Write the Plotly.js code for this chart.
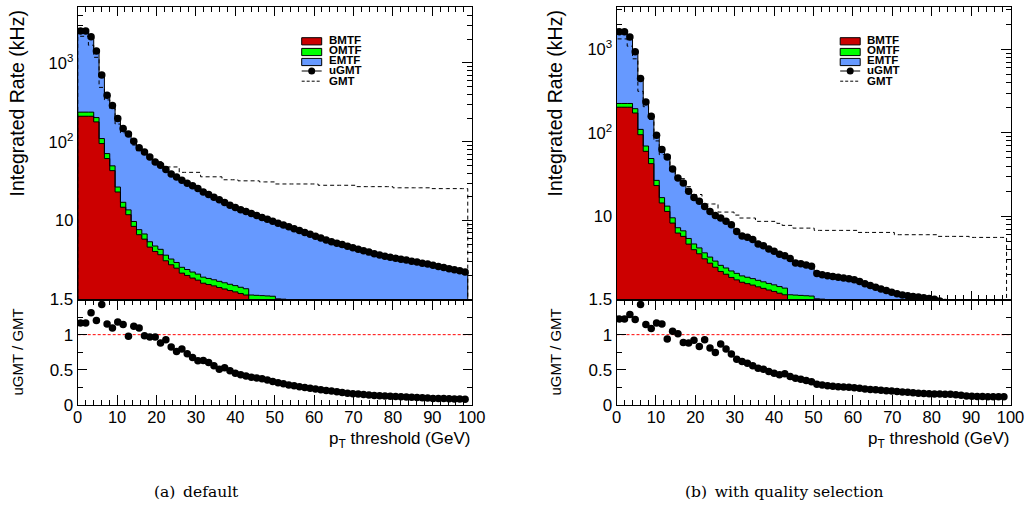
<!DOCTYPE html>
<html>
<head>
<meta charset="utf-8">
<script src="https://cdn.plot.ly/plotly-3.0.1.min.js"></script>
<style>
  html, body { margin: 0; padding: 0; background: #ffffff; }
  #chart { width: 1030px; height: 509px; }
</style>
</head>
<body>
<div id="chart"></div>
<script>
// ---------------- binning of the pT threshold axis ----------------
const N_BINS = 73;           // number of threshold bins
const PT_LAST_EDGE = 99;     // GeV, upper edge of the last bin

// ---------------- (a) default ----------------
const bmtfA = [211,211,211,179,95,61.4,43.1,23.1,14.8,11.9, 8.46,6.64,5.83,4.62,4.07,3.70,3.10,2.76,2.50,2.16,
  2.02,1.87,1.76,1.61,1.55,1.49,1.42,1.36,1.30,1.25, 1.19,1.14,0.92,0.91,0.90,0.90,0.89,0.82,0.81,0.80,
  0.80,0.78,0.77,0.70,0.68,0.62,0.60,0.58,0.57,0.55, 0.53,0.51,0.48,0.46,0.45,0.44,0.43,0.41,0.40,0.39,
  0.38,0.36,0.35,0.34,0.33,0.32,0.31,0.30,0.29,0.28, 0.27,0.27,0.26];
const omtfA = [27,27,27,24,15,9.5,6.5,3.6,2.3,1.8, 1.3,1.05,0.95,0.78,0.70,0.63,0.55,0.50,0.45,0.40,
  0.38,0.36,0.34,0.31,0.30,0.29,0.28,0.27,0.26,0.25, 0.24,0.23,0.22,0.22,0.22,0.21,0.21,0.20,0.20,0.20,
  0.20,0.22,0.22,0.18,0.17,0.16,0.16,0.15,0.15,0.14, 0.14,0.13,0.13,0.12,0.12,0.12,0.11,0.11,0.11,0.10,
  0.10,0.10,0.10,0.09,0.09,0.09,0.09,0.08,0.08,0.08, 0.08,0.08,0.08];
const emtfA = [2302,2302,1912,1214,592,320.1,239.4,171.3,130.9,112.3, 92.24,76.31,67.72,58.9,50.83,46.07,40.85,35.84,32.85,29.94,
  27.4,25.57,23.4,21.18,19.55,18.02,16.7,15.37,14.14,13.2, 12.37,11.73,11.16,10.47,9.88,9.29,8.74,8.27,7.80,7.34,
  6.91,6.48,6.11,5.83,5.50,5.25,4.94,4.69,4.46,4.28, 4.08,3.90,3.74,3.58,3.42,3.25,3.12,3.02,2.93,2.85,
  2.76,2.70,2.61,2.55,2.46,2.40,2.32,2.25,2.17,2.10, 2.03,1.96,1.89];
const ugmtA = [2540,2540,2150,1417,702,391,289,198,148,126, 102,84,74.5,64.3,55.6,50.4,44.5,39.1,35.8,32.5,
  29.8,27.8,25.5,23.1,21.4,19.8,18.4,17.0,15.7,14.7, 13.8,13.1,12.3,11.6,11.0,10.4,9.84,9.29,8.81,8.34,
  7.91,7.48,7.10,6.71,6.35,6.03,5.70,5.42,5.18,4.97, 4.75,4.54,4.35,4.16,3.99,3.81,3.66,3.54,3.44,3.34,
  3.24,3.16,3.06,2.98,2.88,2.81,2.72,2.63,2.54,2.46, 2.38,2.31,2.23];
const gmtA = [2180,2180,1680,1180,490,340,265,168,130,130, 91,77,76,66,58,56,48,48,48,41,
  41,41,41,36,36,36,36,33,33,33, 32,32,32,32,31,31,31,29.2,29.2,29.2,
  29.2,29.2,29.2,29.2,29.2,28.1,28.1,28.1,28.1,28.1, 28.1,28.1,27.0,27.0,27.0,27.0,27.0,27.0,27.0,26.1,
  26.1,26.1,26.1,26.1,26.1,26.1,25.5,25.5,25.5,25.5, 25.5,25.5,25.5];
const ratioA = [1.167,1.167,1.31,1.2,1.43,1.152,1.095,1.181,1.143,0.976, 1.119,1.095,0.986,0.967,0.967,0.881,0.929,0.824,0.762,0.795,
  0.729,0.676,0.629,0.633,0.605,0.557,0.51,0.529,0.486,0.452, 0.429,0.414,0.395,0.384,0.372,0.356,0.334,0.318,0.302,0.286,
  0.272,0.258,0.248,0.237,0.226,0.217,0.207,0.198,0.188,0.177, 0.167,0.161,0.155,0.148,0.142,0.136,0.130,0.127,0.124,0.120,
  0.117,0.114,0.111,0.107,0.103,0.098,0.094,0.093,0.091,0.089, 0.087,0.084,0.081];

// ---------------- (b) with quality selection ----------------
const bmtfB = [203,203,203,173,95,60,42.7,23.3,14.4,11.4, 8.26,6.27,5.72,4.62,3.96,3.54,3.08,2.73,2.44,2.17,
  2.01,1.84,1.72,1.61,1.55,1.49,1.42,1.36,1.30,1.25, 1.19,1.14,0.92,0.91,0.90,0.90,0.89,0.82,0.81,0.80,
  0.80,0.78,0.77,0.70,0.68,0.62,0.60,0.58,0.57,0.55, 0.53,0.51,0.48,0.46,0.45,0.44,0.43,0.41,0.40,0.39,
  0.38,0.36,0.35,0.34,0.33,0.32,0.31,0.30,0.29,0.28, 0.27,0.27,0.26];
const omtfB = [22,22,22,22,15,9.5,6.5,3.6,2.3,1.8, 1.3,1.0,0.95,0.78,0.68,0.62,0.55,0.50,0.45,0.40,
  0.38,0.36,0.34,0.31,0.30,0.29,0.28,0.27,0.26,0.25, 0.24,0.23,0.22,0.22,0.22,0.21,0.21,0.20,0.20,0.20,
  0.20,0.22,0.22,0.18,0.17,0.16,0.16,0.15,0.15,0.14, 0.14,0.13,0.13,0.12,0.12,0.12,0.11,0.11,0.11,0.10,
  0.10,0.10,0.10,0.09,0.09,0.09,0.09,0.08,0.08,0.08, 0.08,0.08,0.08];
const emtfB = [1408,1408,1184,743,340,165.5,108.8,66.7,46.3,38.1, 27.24,21.43,18.33,14.5,12.16,10.94,9.47,8.17,7.31,6.93,
  6.27,5.70,4.50,3.88,3.75,3.47,2.95,2.79,2.49,2.30, 2.07,1.98,1.96,1.62,1.56,1.49,1.40,1.03,0.97,0.93,
  0.89,0.85,0.82,0.89,0.88,0.86,0.79,0.74,0.68,0.65, 0.61,0.58,0.56,0.55,0.54,0.53,0.53,0.53,0.52,0.52,
  0.48,0.46,0.44,0.43,0.40,0.37,0.34,0.34,0.33,0.31, 0.31,0.31,0.31];
const ugmtB = [1633,1633,1409,938,450,235,158,93.6,63,51.3, 36.8,28.7,25,19.9,16.8,15.1,13.1,11.4,10.2,9.5,
  8.66,7.9,6.56,5.8,5.6,5.25,4.65,4.42,4.05,3.8, 3.5,3.35,3.1,2.75,2.68,2.6,2.5,2.05,1.98,1.93,
  1.89,1.85,1.81,1.77,1.73,1.64,1.55,1.47,1.40,1.34, 1.28,1.22,1.17,1.13,1.11,1.09,1.07,1.05,1.03,1.01,
  0.96,0.92,0.89,0.86,0.82,0.78,0.74,0.72,0.70,0.67, 0.66,0.66,0.65];
const gmtB = [1340,1340,1096,773,315,206,145,80,54.7,54.7, 35.1,28.2,28.2,22.6,18.2,18.2,14,14,14,11.2,
  11.2,11.2,10.3,9.5,9.5,9.5,8.66,8.66,8.66,8.66, 8.2,7.75,7.75,7.19,7.19,7.19,7.19,6.75,6.75,6.75,
  6.75,6.75,6.75,6.75,6.75,6.38,6.38,6.38,6.38,6.38, 6.38,6.38,5.99,5.99,5.99,5.99,5.99,5.99,5.99,5.99,
  5.72,5.72,5.72,5.72,5.72,5.72,5.56,5.56,5.56,5.56, 5.56,5.56,5.56];
const ratioB = [1.224,1.224,1.286,1.214,1.43,1.143,1.086,1.167,1.152,0.938, 1.048,1.014,0.89,0.881,0.919,0.833,0.929,0.81,0.748,0.867,
  0.795,0.724,0.652,0.619,0.595,0.557,0.524,0.51,0.476,0.452, 0.429,0.443,0.405,0.38,0.365,0.35,0.33,0.295,0.285,0.275,
  0.267,0.26,0.256,0.251,0.245,0.237,0.229,0.222,0.216,0.21, 0.204,0.198,0.192,0.186,0.18,0.173,0.167,0.164,0.161,0.158,
  0.156,0.154,0.152,0.145,0.137,0.129,0.125,0.122,0.12,0.119, 0.119,0.119,0.118];

// ---------------- labels ----------------
const seriesNames = ['BMTF', 'OMTF', 'EMTF', 'uGMT', 'GMT'];
const yTitleTop = 'Integrated Rate (kHz)';
const yTitleRatio = 'uGMT / GMT';
const xTitle = 'p<sub>T</sub> threshold (GeV)';
const captions = ['(a)\u2002default', '(b)\u2002with quality selection'];
const logTickVals = [10, 100, 1000];
const logTickText = ['10', '10<sup>2</sup>', '10<sup>3</sup>'];

// ---------------- styling ----------------
const COL_B = '#cc0000', COL_O = '#00ff00', COL_E = '#6699ff';
const FONT = 'Liberation Sans, Arial, Helvetica, sans-serif';
const W = 1030, H = 509;
const px = v => v / W;
const py = v => 1 - v / H;

const binW = PT_LAST_EDGE / N_BINS;
const edges = Array.from({length: N_BINS + 1}, (_, i) => i * binW);
const centers = edges.slice(0, N_BINS).map(e => e + binW / 2);
const TINY = 1e-4;

function stepLine(levels, xa, ya, dash) {
  return {
    type: 'scatter', mode: 'lines', xaxis: xa, yaxis: ya,
    x: [edges[0]].concat(edges),
    y: [TINY].concat(levels, [TINY]),
    line: {shape: 'hv', color: '#000000', width: 1, dash: dash || 'solid'},
    hoverinfo: 'skip', showlegend: false
  };
}
function bars(vals, color, name, xa, ya) {
  return {type: 'bar', x: centers, y: vals, width: binW, xaxis: xa, yaxis: ya, name: name,
          marker: {color: color, line: {width: 0}}, showlegend: false, hoverinfo: 'skip'};
}

function panelTraces(b, o, e, u, g, r, xa, ya, xr, yr) {
  const lvlBO = b.map((v, i) => v + o[i]);
  const lvlAll = lvlBO.map((v, i) => v + e[i]);
  return [
    bars(b, COL_B, seriesNames[0], xa, ya),
    bars(o, COL_O, seriesNames[1], xa, ya),
    bars(e, COL_E, seriesNames[2], xa, ya),
    stepLine(b, xa, ya),
    stepLine(lvlBO, xa, ya),
    stepLine(lvlAll, xa, ya),
    stepLine(g, xa, ya, '4px,3px'),
    {type: 'scatter', mode: 'markers', x: centers, y: u, xaxis: xa, yaxis: ya, name: seriesNames[3],
     marker: {color: '#000000', size: 7.5, symbol: 'circle'}, cliponaxis: true, showlegend: false, hoverinfo: 'skip'},
    {type: 'scatter', mode: 'markers', x: centers, y: r, xaxis: xr, yaxis: yr, name: 'ratio',
     marker: {color: '#000000', size: 7.5, symbol: 'circle'}, cliponaxis: true, showlegend: false, hoverinfo: 'skip'}
  ];
}

const traces = [].concat(
  panelTraces(bmtfA, omtfA, emtfA, ugmtA, gmtA, ratioA, 'x', 'y', 'x2', 'y2'),
  panelTraces(bmtfB, omtfB, emtfB, ugmtB, gmtB, ratioB, 'x3', 'y3', 'x4', 'y4')
);

// geometry (pixels)
const PANELS = [
  {x0: 77.7, x1: 471.7, logMax: 3.71},
  {x0: 616.5, x1: 1010.5, logMax: 3.51}
];
const TOP_Y0 = 7, TOP_Y1 = 299.5, RAT_Y1 = 405;

const minorLog = [];
[1, 10, 100, 1000].forEach(d => { for (let k = 2; k <= 9; k++) minorLog.push(k * d); });

const tickFont = {family: FONT, size: 16.5, color: '#000000'};
function xTop(i, anchor) {
  const p = PANELS[i];
  return {domain: [px(p.x0), px(p.x1)], range: [0, 100], anchor: anchor, showticklabels: false,
    ticks: 'inside', tick0: 0, dtick: 10, ticklen: 9, tickwidth: 1, tickcolor: '#000',
    minor: {ticks: 'inside', dtick: 2, tick0: 0, ticklen: 5, tickwidth: 1, tickcolor: '#000'},
    showline: true, linecolor: '#000', linewidth: 1, mirror: 'allticks',
    showgrid: false, zeroline: false, layer: 'below traces', fixedrange: true};
}
function yTop(i, anchor) {
  const p = PANELS[i];
  return {type: 'log', domain: [py(TOP_Y1), py(TOP_Y0)], range: [0, p.logMax], anchor: anchor,
    tickmode: 'array', tickvals: logTickVals, ticktext: logTickText, tickfont: tickFont,
    ticks: 'inside', ticklen: 10, tickwidth: 1, tickcolor: '#000',
    minor: {tickmode: 'array', tickvals: minorLog, ticks: 'inside', ticklen: 5, tickwidth: 1, tickcolor: '#000'},
    showline: true, linecolor: '#000', linewidth: 1, mirror: 'allticks',
    showgrid: false, zeroline: false, layer: 'below traces', fixedrange: true};
}
function xRat(i, anchor) {
  const p = PANELS[i];
  return {domain: [px(p.x0), px(p.x1)], range: [0, 100], anchor: anchor,
    tickmode: 'linear', tick0: 0, dtick: 10, tickfont: tickFont, ticklabelstandoff: -3,
    ticks: 'inside', ticklen: 10, tickwidth: 1, tickcolor: '#000',
    minor: {ticks: 'inside', dtick: 2, tick0: 0, ticklen: 5, tickwidth: 1, tickcolor: '#000'},
    showline: true, linecolor: '#000', linewidth: 1, mirror: 'allticks',
    showgrid: false, zeroline: false, fixedrange: true};
}
function yRat(i, anchor) {
  return {domain: [py(RAT_Y1), py(TOP_Y1)], range: [0, 1.5], anchor: anchor,
    tickmode: 'linear', tick0: 0, dtick: 0.5, tickfont: {family: FONT, size: 17, color: '#000'},
    ticks: 'inside', ticklen: 9, tickwidth: 1, tickcolor: '#000',
    minor: {ticks: 'inside', dtick: 0.25, tick0: 0, ticklen: 5, tickwidth: 1, tickcolor: '#000'},
    showline: true, linecolor: '#000', linewidth: 1, mirror: 'allticks',
    showgrid: false, zeroline: false, fixedrange: true};
}

const shapes = [];
const annotations = [];
['x2', 'x4'].forEach((xa, i) => {
  shapes.push({type: 'line', xref: xa, yref: i === 0 ? 'y2' : 'y4', x0: 0, x1: 100, y0: 1, y1: 1,
               line: {color: '#ff0000', width: 1, dash: '3px,2px'}, layer: 'below'});
});

// legends (drawn like the ROOT TLegend)
const LEG = [{box: 301.7, text: 326.5}, {box: 840.2, text: 865}];
const rowY = [41.3, 52, 62, 71, 81.2];
const textY = [39.8, 50.3, 60.5, 70.3, 80.8];
const boxColors = [COL_B, COL_O, COL_E];
LEG.forEach(L => {
  for (let k = 0; k < 3; k++) {
    shapes.push({type: 'rect', xref: 'paper', yref: 'paper', x0: px(L.box), x1: px(L.box + 20),
                 y0: py(rowY[k] + 3.6), y1: py(rowY[k] - 3.6),
                 fillcolor: boxColors[k], line: {color: '#000', width: 1}, layer: 'above'});
  }
  shapes.push({type: 'line', xref: 'paper', yref: 'paper', x0: px(L.box), x1: px(L.box + 20),
               y0: py(rowY[3]), y1: py(rowY[3]), line: {color: '#000', width: 1}, layer: 'above'});
  shapes.push({type: 'circle', xref: 'paper', yref: 'paper', x0: px(L.box + 6.5), x1: px(L.box + 13.5),
               y0: py(rowY[3] + 3.5), y1: py(rowY[3] - 3.5), fillcolor: '#000', line: {color: '#000', width: 0}, layer: 'above'});
  shapes.push({type: 'line', xref: 'paper', yref: 'paper', x0: px(L.box), x1: px(L.box + 20),
               y0: py(rowY[4]), y1: py(rowY[4]), line: {color: '#000', width: 1, dash: '3px,2px'}, layer: 'above'});
  seriesNames.forEach((nm, k) => {
    annotations.push({xref: 'paper', yref: 'paper', x: px(L.text), y: py(textY[k]), text: '<b>' + nm + '</b>',
      showarrow: false, xanchor: 'left', yanchor: 'middle', font: {family: FONT, size: 11.5, color: '#000'}});
  });
});

// axis titles (ROOT style: right / top aligned)
[{yt: 17, xr: 471.7}, {yt: 555, xr: 1010.5}].forEach(t => {
  annotations.push({xref: 'paper', yref: 'paper', x: px(t.yt), y: py(103.5), text: yTitleTop, textangle: -90,
    showarrow: false, xanchor: 'center', yanchor: 'middle', font: {family: FONT, size: 19.5, color: '#000'}});
  annotations.push({xref: 'paper', yref: 'paper', x: px(t.yt), y: py(352.5), text: yTitleRatio, textangle: -90,
    showarrow: false, xanchor: 'center', yanchor: 'middle', font: {family: FONT, size: 15, color: '#000'}});
  annotations.push({xref: 'paper', yref: 'paper', x: px(t.xr), y: py(440), text: xTitle,
    showarrow: false, xanchor: 'right', yanchor: 'middle', font: {family: FONT, size: 17, color: '#000'}});
});

// captions
[{x: 196, t: captions[0]}, {x: 784, t: captions[1]}].forEach(c => {
  annotations.push({xref: 'paper', yref: 'paper', x: px(c.x), y: py(492), text: c.t, showarrow: false,
    xanchor: 'center', yanchor: 'middle', font: {family: 'DejaVu Serif, Liberation Serif, serif', size: 15.5, color: '#000'}});
});

const layout = {
  width: W, height: H, margin: {l: 0, r: 0, t: 0, b: 0},
  paper_bgcolor: '#ffffff', plot_bgcolor: '#ffffff',
  barmode: 'stack', bargap: 0, showlegend: false,
  font: {family: FONT, color: '#000'},
  xaxis: xTop(0, 'y'), yaxis: yTop(0, 'x'),
  xaxis2: xRat(0, 'y2'), yaxis2: yRat(0, 'x2'),
  xaxis3: xTop(1, 'y3'), yaxis3: yTop(1, 'x3'),
  xaxis4: xRat(1, 'y4'), yaxis4: yRat(1, 'x4'),
  shapes: shapes, annotations: annotations
};

Plotly.newPlot('chart', traces, layout, {displayModeBar: false, staticPlot: true});
</script>
</body>
</html>
